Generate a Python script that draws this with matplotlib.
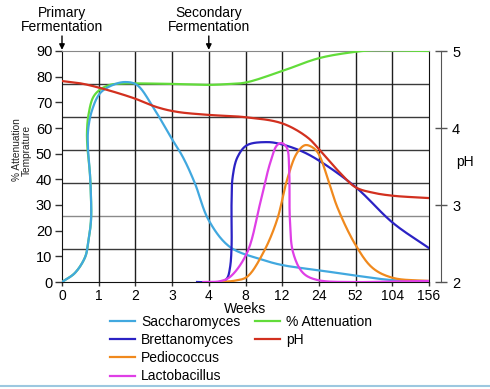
import numpy as np
import matplotlib
matplotlib.use("Agg")
import matplotlib.pyplot as plt
from matplotlib.lines import Line2D

plt.rcParams['font.family'] = ['Liberation Sans', 'DejaVu Sans']
plt.rcParams['font.size'] = 10

# x axis: weeks, ticks are equally spaced on the chart
week_ticks = [0, 1, 2, 3, 4, 8, 12, 24, 52, 104, 156]

# --- data (weeks, value) ---
sacch_w = [0, 0.35, 0.63, 0.71, 0.79, 0.79, 0.76, 0.71, 0.71, 0.82, 1.04, 1.39, 1.72, 2.04, 2.48,
           2.94, 3.3, 3.62, 4.0, 6.32, 9.92, 12, 24.84, 52, 100.9, 156]
sacch_v = [0, 3.5, 9.7, 15, 24, 33, 42.4, 51.4, 59, 67, 73.6, 76.8, 77.9, 76.8, 68.2,
           57, 48.5, 38.5, 24, 13.6, 8.6, 6.6, 4.5, 2.5, 0.8, 0.2]

atten_w = [0, 0.35, 0.63, 0.71, 0.79, 0.79, 0.76, 0.70, 0.68, 0.72, 0.85, 1.04, 1.31, 1.6, 2.5,
           3.5, 4.0, 6.0, 8.0, 12, 24, 52, 78, 104, 156]
atten_v = [0, 3.5, 9.7, 15, 24, 33, 42.4, 51, 58, 65, 72, 75, 76.8, 77.3, 77.3,
           77, 76.8, 77.1, 77.7, 82.2, 87.2, 89.7, 90.3, 90.2, 90]

ph_w = [0, 0.5, 1.04, 1.94, 2.59, 3.13, 4, 8, 12, 20.2, 24.84, 40, 52, 76.4, 105, 156]
ph_v = [4.61, 4.58, 4.52, 4.39, 4.27, 4.21, 4.17, 4.14, 4.06, 3.88, 3.71, 3.42, 3.23, 3.16, 3.12, 3.09]

brett_w = [3.68, 5.4, 6.0, 6.32, 6.48, 6.48, 6.6, 7.12, 8.16, 10.36, 11.76, 17.88, 23.76, 52, 105, 156]
brett_v = [0, 0, 1.5, 5.8, 13.6, 30.7, 40.9, 48.6, 53.3, 54.5, 53.8, 51.2, 47.5, 37, 23, 13.2]

pedio_w = [5.2, 6.8, 8.16, 9.92, 11.44, 13.56, 16.8, 19.44, 21.72, 23.76, 31, 38, 52, 76.4, 105, 156]
pedio_v = [0, 0.5, 2, 11.3, 24.2, 39.7, 50.2, 53.3, 52.6, 50.2, 40, 29.2, 14.4, 5.4, 1.6, 0.4]

lacto_w = [3.85, 5.2, 6.32, 8.16, 9.6, 10.68, 11.44, 11.96, 13.56, 14.28, 14.52, 15.6, 18.84, 23.4, 52, 104, 156]
lacto_v = [0, 0.3, 2, 11.3, 30.7, 46.3, 53.3, 54.1, 52.2, 43.6, 24.2, 11.3, 3.5, 0.8, 0, 0.2, 0.4]

tick_pos = np.arange(len(week_ticks))


def fwd(w):
    return np.interp(w, week_ticks, tick_pos)


def inv(p):
    return np.interp(p, tick_pos, week_ticks)


def smooth(weeks, vals, ypx, n=16):
    # centripetal catmull-rom, done in (roughly) pixel space
    xpx = 36.7
    p = np.column_stack([fwd(np.asarray(weeks, float)) * xpx, np.asarray(vals, float) * ypx])
    p = np.vstack([2 * p[0] - p[1], p, 2 * p[-1] - p[-2]])
    xs, ys = [], []
    for i in range(1, len(p) - 2):
        p0, p1, p2, p3 = p[i - 1], p[i], p[i + 1], p[i + 2]
        t0 = 0.0
        t1 = t0 + np.linalg.norm(p1 - p0) ** 0.5 + 1e-6
        t2 = t1 + np.linalg.norm(p2 - p1) ** 0.5 + 1e-6
        t3 = t2 + np.linalg.norm(p3 - p2) ** 0.5 + 1e-6
        t = np.linspace(t1, t2, n, endpoint=False)[:, None]
        a1 = (t1 - t) / (t1 - t0) * p0 + (t - t0) / (t1 - t0) * p1
        a2 = (t2 - t) / (t2 - t1) * p1 + (t - t1) / (t2 - t1) * p2
        a3 = (t3 - t) / (t3 - t2) * p2 + (t - t2) / (t3 - t2) * p3
        b1 = (t2 - t) / (t2 - t0) * a1 + (t - t0) / (t2 - t0) * a2
        b2 = (t3 - t) / (t3 - t1) * a2 + (t - t1) / (t3 - t1) * a3
        c = (t2 - t) / (t2 - t1) * b1 + (t - t1) / (t2 - t1) * b2
        xs.append(c[:, 0])
        ys.append(c[:, 1])
    xs.append([p[-2, 0]])
    ys.append([p[-2, 1]])
    xs = np.concatenate(xs) / xpx
    ys = np.concatenate(ys) / ypx
    return inv(xs), ys


fig = plt.figure(figsize=(4.9, 3.89), dpi=100)
ax = fig.add_axes([62 / 490, 1 - 282 / 389, 367 / 490, 231 / 389])
ax.set_xscale('function', functions=(fwd, inv))
ax.set_xlim(0, 156)
ax.set_ylim(0, 90)

# grid
for k, y in enumerate(np.linspace(0, 90, 8)[1:-1]):
    ax.axhline(y, color='#8a8a8a' if k == 1 else '#3a3a3a', lw=1, zorder=1)
for w in week_ticks[1:-1]:
    ax.axvline(w, color='#1e1e1e', lw=1, zorder=1)

ax.set_xticks(week_ticks)
ax.set_xticklabels([str(w) for w in week_ticks])
ax.set_yticks(range(0, 91, 10))
ax.tick_params(axis='y', direction='out', length=5, width=1, color='#333', pad=2, labelsize=10.5)
ax.tick_params(axis='x', direction='out', length=3, width=1, color='#333', pad=2)
for s in ['left', 'bottom', 'right']:
    ax.spines[s].set_color('#111')
ax.spines['top'].set_color('#888')

lw = 1.6
ax.plot(*smooth(atten_w, atten_v, 231 / 90), color='#62dc3a', lw=lw, zorder=3, label='% Attenuation')
ax.plot(*smooth(sacch_w, sacch_v, 231 / 90), color='#41a8df', lw=lw, zorder=4, label='Saccharomyces')
ax.plot(*smooth(brett_w, brett_v, 231 / 90), color='#2b22c4', lw=lw, zorder=4, label='Brettanomyces')
ax.plot(*smooth(pedio_w, pedio_v, 231 / 90), color='#f0891d', lw=lw, zorder=4, label='Pediococcus')
ax.plot(*smooth(lacto_w, lacto_v, 231 / 90), color='#df3fe6', lw=lw, zorder=5, label='Lactobacillus')

# pH on its own axis on the right
ax2 = ax.twinx()
ax2.set_ylim(2, 5)
ph_line, = ax2.plot(*smooth(ph_w, ph_v, 231 / 3), color='#d2301f', lw=lw, label='pH')
for s in ['left', 'top', 'bottom']:
    ax2.spines[s].set_visible(False)
ax2.spines['right'].set_position(('axes', (441 - 62) / 367))
ax2.spines['right'].set_color('#555')
ax2.set_yticks([2, 3, 4, 5])
ax2.tick_params(axis='y', direction='inout', length=8, width=1, color='#555', pad=4, labelsize=10.5)
fig.text(465 / 490, 1 - 162 / 389, 'pH', ha='center', va='center')

# annotations above the chart
tr = ax.get_xaxis_transform()
for w, txt in [(0, 'Primary\nFermentation'), (4, 'Secondary\nFermentation')]:
    ax.text(w, (282 - 20) / 231, txt, transform=tr, ha='center', va='center', linespacing=1.0)
    ax.annotate('', xy=(w, 1.005), xytext=(w, 1.065), xycoords=tr, textcoords=tr,
                arrowprops=dict(arrowstyle='-|>', color='black', lw=1, mutation_scale=8, shrinkA=0, shrinkB=0))
ax.text(8, (282 - 309) / 231, 'Weeks', transform=tr, ha='center', va='center')

fig.text(22 / 490, 1 - 150 / 389, '% Attenuation\nTemprature', rotation=90, ha='center', va='center',
         fontsize=7.3, linespacing=1.0, multialignment='center', color='#222')

# legends
h = {l.get_label(): l for l in ax.get_lines() + [ph_line]}
leg_kw = dict(loc='upper left', frameon=False, borderpad=0, borderaxespad=0, handlelength=1.8,
              handletextpad=0.45, labelspacing=0.3, fontsize=10)
fig.legend(handles=[h['Saccharomyces'], h['Brettanomyces'], h['Pediococcus'], h['Lactobacillus']],
           bbox_to_anchor=(110 / 490, 1 - 315 / 389), **leg_kw)
fig.legend(handles=[h['% Attenuation'], h['pH']], bbox_to_anchor=(255 / 490, 1 - 315 / 389), **leg_kw)

fig.add_artist(Line2D([0, 1], [1 - 386 / 389] * 2, color='#9cc8e0', lw=1.5, transform=fig.transFigure))

fig.savefig('out.png', dpi=100)
